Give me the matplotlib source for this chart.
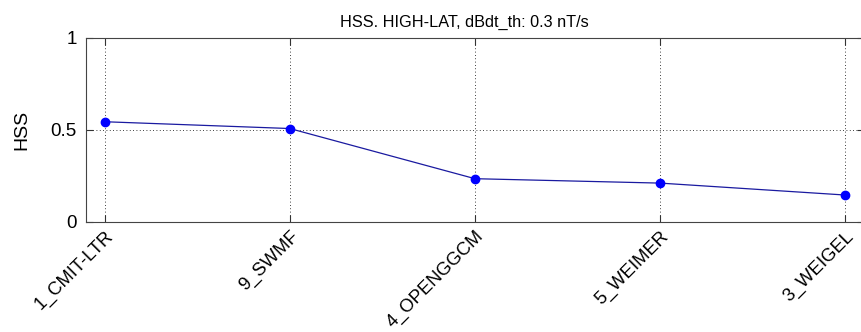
import matplotlib
matplotlib.use("Agg")
import matplotlib.pyplot as plt

models = ["1_CMIT-LTR", "9_SWMF", "4_OPENGGCM", "5_WEIMER", "3_WEIGEL"]
hss = [0.543, 0.506, 0.233, 0.209, 0.144]

plt.rcParams["font.family"] = ["Liberation Sans", "DejaVu Sans"]
plt.rcParams["font.size"] = 13.5

fig = plt.figure(figsize=(8.61, 3.32), dpi=100)
# right edge of the axes sits just past the image border, as in the original
ax = fig.add_axes([0.0999, 0.3328, 0.9035, 0.5535])

x = list(range(1, len(models) + 1))
ax.plot(x, hss, color="#1a1aa0", linewidth=0.9, zorder=3)
ax.plot(x, hss, linestyle="none", marker="o", markersize=6,
        color="#0000ff", zorder=4)

ax.set_xlim(0.9, 5.1)
ax.set_ylim(0, 1)
ax.set_xticks(x)
ax.set_xticklabels(models, rotation=45, ha="right", va="top",
                   rotation_mode="anchor", fontsize=13.2)
ax.set_yticks([0, 0.5, 1])
ax.set_yticklabels(["0", "0.5", "1"])
ax.tick_params(direction="in", length=5, width=0.8, colors="#333333",
               labelcolor="black", top=True, right=True)
ax.tick_params(axis="y", pad=6.5, labelsize=13.5)
ax.tick_params(axis="x", pad=4.5)
ax.grid(True, linestyle=(0, (1, 3)), color="black", linewidth=0.6)
for s in ax.spines.values():
    s.set_color("#444444")
    s.set_linewidth(0.8)

ax.set_ylabel("HSS", fontsize=14, labelpad=15)
ax.set_title("HSS. HIGH-LAT, dBdt_th: 0.3 nT/s", fontsize=11.7, x=0.487,
             pad=8)

fig.savefig("out.png", dpi=100)
